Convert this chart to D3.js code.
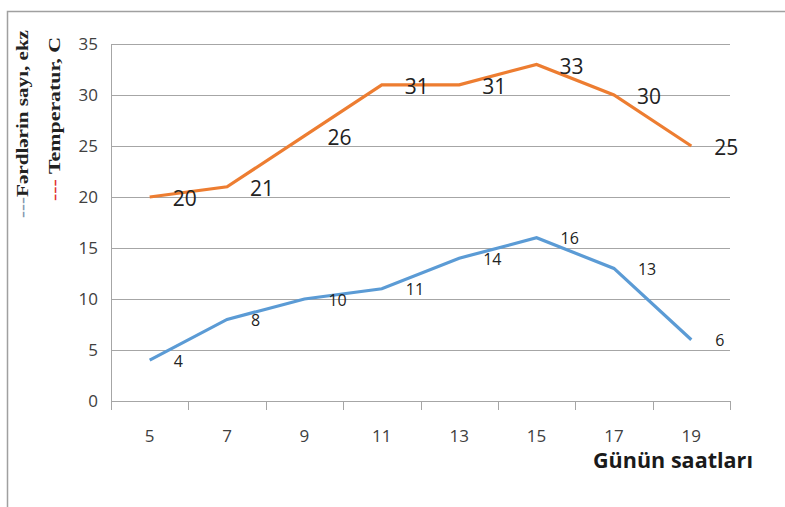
<!DOCTYPE html>
<html>
<head>
<meta charset="utf-8">
<script src="https://cdn.jsdelivr.net/npm/d3@7"></script>
<style>
  body { margin: 0; background: #fff; }
  svg text { font-family: "Open Sans", "Liberation Sans", sans-serif; }
</style>
</head>
<body>
<svg id="chart" width="785" height="507"></svg>
<script>
// chart data
const hours = ["5", "7", "9", "11", "13", "15", "17", "19"];
const temperature = [20, 21, 26, 31, 31, 33, 30, 25];
const individuals = [4, 8, 10, 11, 14, 16, 13, 6];
const yTicks = [0, 5, 10, 15, 20, 25, 30, 35];

let margin = {top: 44, right: 55, bottom: 106, left: 111};
let width = 785 - margin.left - margin.right;
let height = 507 - margin.top - margin.bottom;

let svg = d3.select("#chart");

// outer frame (top + left only visible)
svg.append("path")
    .attr("d", "M7.5,507 V11.5 H785")
    .attr("fill", "none")
    .attr("stroke", "#a0a0a0")
    .attr("stroke-width", 1.5);

let chart = svg.append("g")
    .attr("transform", "translate(" + margin.left + "," + margin.top + ")");

let x = d3.scaleBand().domain(hours).range([0, width]);
let y = d3.scaleLinear().domain([0, 35]).range([height, 0]);

// gridlines
chart.append("g")
    .selectAll("line")
    .data(yTicks.filter(d => d > 0))
    .join("line")
    .attr("x1", 0)
    .attr("x2", width)
    .attr("y1", d => Math.round(y(d)) + 0.5)
    .attr("y2", d => Math.round(y(d)) + 0.5)
    .attr("stroke", "#a6a6a6")
    .attr("stroke-width", 1.2);

// y axis
let yAxis = chart.append("g")
    .call(d3.axisLeft(y).tickValues(yTicks).tickSize(7).tickPadding(6));
yAxis.select(".domain").attr("stroke", "#a6a6a6").attr("d", "M0.5," + height + "V0");
yAxis.selectAll(".tick line").attr("stroke", "#a6a6a6").attr("x1", -7);
yAxis.selectAll("text").attr("font-size", 17).attr("fill", "#404040");

// x axis, ticks at band edges
let xAxis = chart.append("g")
    .attr("transform", "translate(0," + height + ")")
    .call(d3.axisBottom(x).tickSize(0).tickPadding(29));
xAxis.select(".domain").attr("stroke", "#a6a6a6").attr("d", "M0,0.5H" + width);
xAxis.selectAll("text").attr("font-size", 17).attr("fill", "#404040");
xAxis.append("g")
    .selectAll("line")
    .data(hours.concat(["end"]))
    .join("line")
    .attr("x1", (d, i) => Math.round(i * x.step()) + 0.5)
    .attr("x2", (d, i) => Math.round(i * x.step()) + 0.5)
    .attr("y1", 0)
    .attr("y2", 9)
    .attr("stroke", "#a6a6a6");

// x axis title
chart.append("text")
    .attr("x", width + 23)
    .attr("y", height + 67)
    .attr("text-anchor", "end")
    .attr("font-size", 21)
    .attr("font-weight", "bold")
    .attr("fill", "#1a1a1a")
    .attr("textLength", 160)
    .attr("lengthAdjust", "spacingAndGlyphs")
    .text("Günün saatları");

let cx = d => x(d) + x.bandwidth() / 2;

let line = d3.line()
    .x((d, i) => cx(hours[i]))
    .y(d => y(d));

chart.append("path")
    .datum(temperature)
    .attr("fill", "none")
    .attr("stroke", "#ed7d31")
    .attr("stroke-width", 3.2)
    .attr("d", line);

chart.append("path")
    .datum(individuals)
    .attr("fill", "none")
    .attr("stroke", "#5b9bd5")
    .attr("stroke-width", 3.2)
    .attr("d", line);

// data labels
chart.append("g")
    .selectAll("text")
    .data(temperature)
    .join("text")
    .attr("x", (d, i) => cx(hours[i]) + 23)
    .attr("y", d => y(d) + 2)
    .attr("dy", "0.35em")
    .attr("font-size", 21)
    .attr("fill", "#222")
    .text(d => d);

chart.append("g")
    .selectAll("text")
    .data(individuals)
    .join("text")
    .attr("x", (d, i) => cx(hours[i]) + 24)
    .attr("y", d => y(d) + 1)
    .attr("dy", "0.35em")
    .attr("font-size", 16)
    .attr("fill", "#222")
    .text(d => d);

// rotated legend captions
let legend1 = svg.append("text")
    .attr("transform", "translate(28,218) rotate(-90)")
    .attr("font-size", 17)
    .attr("font-weight", "bold")
    .attr("textLength", 188)
    .attr("lengthAdjust", "spacingAndGlyphs")
    .style("font-family", "'Liberation Serif', serif");
legend1.append("tspan").attr("fill", "#8496b0").text("---");
legend1.append("tspan").attr("fill", "#222").text("Fərdlərin sayı, ekz");

let legend2 = svg.append("text")
    .attr("transform", "translate(60,201) rotate(-90)")
    .attr("font-size", 17)
    .attr("font-weight", "bold")
    .attr("textLength", 164)
    .attr("lengthAdjust", "spacingAndGlyphs")
    .style("font-family", "'Liberation Serif', serif");
legend2.append("tspan").attr("fill", "#e03030").text("--- ");
legend2.append("tspan").attr("fill", "#222").text("Temperatur, C");
</script>
</body>
</html>
